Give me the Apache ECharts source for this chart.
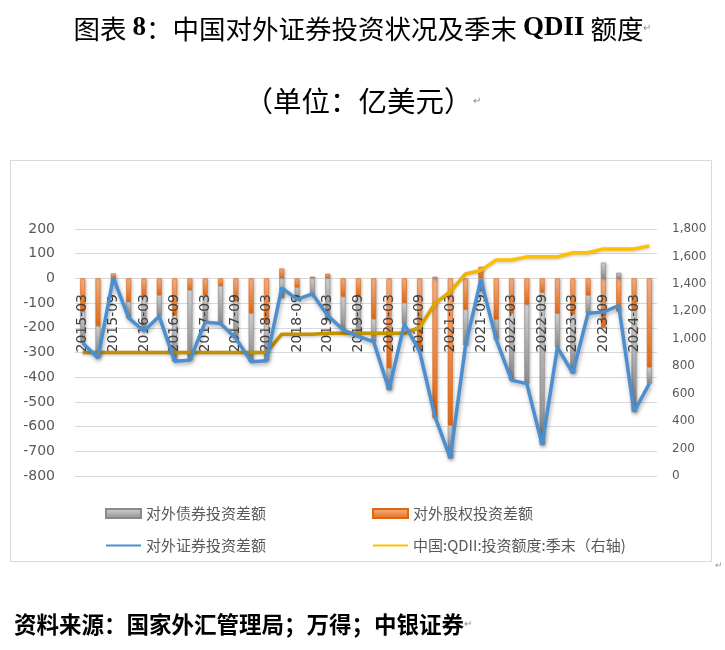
<!DOCTYPE html>
<html>
<head>
<meta charset="utf-8">
<script src="https://cdn.jsdelivr.net/npm/echarts@6/dist/echarts.min.js"></script>
<style>
    html, body { margin: 0; padding: 0; background: #fff; }
    #main { width: 725px; height: 650px; }
</style>
</head>
<body>
<div id="main"></div>
<script>
    // quarter-end labels
    var quarters = [
        '2015-03', '2015-06', '2015-09', '2015-12', '2016-03', '2016-06', '2016-09', '2016-12',
        '2017-03', '2017-06', '2017-09', '2017-12', '2018-03', '2018-06', '2018-09', '2018-12',
        '2019-03', '2019-06', '2019-09', '2019-12', '2020-03', '2020-06', '2020-09', '2020-12',
        '2021-03', '2021-06', '2021-09', '2021-12', '2022-03', '2022-06', '2022-09', '2022-12',
        '2023-03', '2023-06', '2023-09', '2023-12', '2024-03', '2024-06'
    ];
    // 对外债券投资差额 (亿美元)
    var bondNet = [
        -127, -129, -17, -65, -139, -85, -186, -284,
        -107, -152, -149, -196, -155, -80, -48, -70,
        -170, -134, -162, -92, -88, -86, -15, 7,
        -133, -145, -52, -81, -270, -320, -617, -137,
        -237, -73, 64, 23, -410, -66
    ];
    // 对外股权投资差额
    var equityNet = [
        -135, -193, 20, -95, -74, -68, -149, -47,
        -70, -31, -93, -141, -178, 40, -37, 7,
        19, -74, -73, -164, -363, -99, -280, -566,
        -595, -126, 47, -166, -142, -106, -57, -142,
        -146, -68, -200, -133, -130, -360
    ];
    // 对外证券投资差额
    var portfolioNet = [
        -262, -322, 3, -160, -213, -153, -335, -331,
        -177, -183, -242, -337, -333, -38, -85, -63,
        -150, -208, -235, -256, -451, -185, -295, -559,
        -728, -271, -5, -247, -412, -426, -674, -279,
        -383, -141, -136, -110, -540, -426
    ];
    // QDII 投资额度 季末 (右轴)
    var qdiiQuota = [
        900, 900, 900, 900, 900, 900, 900, 900,
        900, 900, 900, 900, 900, 1033, 1033, 1033,
        1040, 1040, 1040, 1040, 1040, 1040, 1081, 1257,
        1343, 1473, 1497, 1575, 1575, 1597, 1597, 1597,
        1627, 1627, 1655, 1655, 1655, 1677
    ];

    var CJK = '"Noto Sans CJK SC", "Noto Sans", sans-serif';
    var NUM = '"DejaVu Sans", "Noto Sans", sans-serif';

    var chartDom = document.getElementById('main');
    var myChart = echarts.init(chartDom);
    var option;

    var grad = function (c0, c1) {
        return new echarts.graphic.LinearGradient(0, 0, 0, 1, [
            { offset: 0, color: c0 },
            { offset: 1, color: c1 }
        ]);
    };

    var legendText = { color: '#595959', fontSize: 15, fontFamily: CJK };

    option = {
        animation: false,
        backgroundColor: '#fff',
        graphic: [
            {
                type: 'rect', z: -10, silent: true,
                shape: { x: 10.5, y: 160.5, width: 701, height: 401 },
                style: { fill: '#fff', stroke: '#D9D9D9', lineWidth: 1 }
            },
            {
                type: 'text', left: 'center', top: 15,
                style: {
                    text: '图表 {b|8}：中国对外证券投资状况及季末 {b|QDII} 额度{m|↵}',
                    fill: '#000', font: '26.5px ' + CJK,
                    rich: {
                        b: { fontFamily: '"Liberation Serif", serif', fontWeight: 'bold', fontSize: 27, fill: '#000' },
                        m: { fontSize: 10, fill: '#888' }
                    }
                }
            },
            {
                type: 'text', left: 'center', top: 87,
                style: {
                    text: '（单位：亿美元）{m|↵}',
                    fill: '#000', font: '28.5px ' + CJK,
                    rich: { m: { fontSize: 10, fill: '#888' } }
                }
            },
            {
                type: 'text', left: 14, top: 613,
                style: {
                    text: '资料来源：国家外汇管理局；万得；中银证券{m|↵}',
                    fill: '#000', font: 'bold 22.5px ' + CJK,
                    rich: { m: { fontSize: 10, fill: '#888', fontWeight: 'normal' } }
                }
            },
            {
                type: 'text', left: 715, top: 560,
                style: { text: '↵', fill: '#999', font: '9px ' + CJK }
            }
        ],
        legend: [
            {
                left: 100, top: 501,
                itemWidth: 35, itemHeight: 9, itemGap: 106,
                textStyle: legendText,
                data: [
                    { name: '对外债券投资差额', icon: 'rect' },
                    { name: '对外股权投资差额', icon: 'rect' }
                ]
            },
            {
                left: 100, top: 533,
                itemWidth: 35, itemHeight: 9, itemGap: 106,
                textStyle: legendText,
                data: [
                    { name: '对外证券投资差额', itemStyle: { opacity: 0 } },
                    {
                        name: '中国:QDII:投资额度:季末（右轴)',
                        itemStyle: { opacity: 0 },
                        lineStyle: { color: '#FFC000' }
                    }
                ]
            }
        ],
        grid: {
            left: 75,
            right: 68,
            top: 229,
            bottom: 174,
            containLabel: false,
            outerBoundsMode: 'none'
        },
        xAxis: {
            type: 'category',
            data: quarters,
            boundaryGap: true,
            position: 'bottom',
            // category labels sit on the zero line (left axis)
            offset: -197,
            z: 3,
            axisLine: { show: false, onZero: false },
            axisTick: { show: false },
            axisLabel: {
                interval: 1,
                rotate: 90,
                margin: 15,
                color: '#404040',
                fontSize: 14,
                fontFamily: NUM
            },
            splitLine: { show: false }
        },
        yAxis: [
            {
                type: 'value',
                min: -800,
                max: 200,
                interval: 100,
                axisLine: { show: false },
                axisTick: { show: false },
                axisLabel: { color: '#595959', fontSize: 14, fontFamily: NUM, margin: 20 },
                splitLine: { show: true, lineStyle: { color: '#D9D9D9', width: 1 } }
            },
            {
                type: 'value',
                position: 'right',
                min: 0,
                max: 1800,
                interval: 200,
                axisLine: { show: false },
                axisTick: { show: false },
                axisLabel: {
                    color: '#595959', fontSize: 12, fontFamily: NUM, margin: 15,
                    formatter: function (v) { return v.toLocaleString('en-US'); }
                },
                splitLine: { show: false }
            }
        ],
        series: [
            {
                name: '对外股权投资差额',
                type: 'bar',
                stack: 'portfolio',
                barWidth: 5,
                z: 2,
                itemStyle: {
                    color: grad('#F8B58A', '#E46C17'),
                    borderColor: '#E06612',
                    borderWidth: 0.6,
                    shadowColor: 'rgba(0,0,0,0.25)',
                    shadowBlur: 3,
                    shadowOffsetX: 1,
                    shadowOffsetY: 1
                },
                data: equityNet
            },
            {
                name: '对外债券投资差额',
                type: 'bar',
                stack: 'portfolio',
                barWidth: 5,
                z: 2,
                itemStyle: {
                    color: grad('#D6D6D6', '#8E8E8E'),
                    borderColor: '#8A8A8A',
                    borderWidth: 0.6,
                    shadowColor: 'rgba(0,0,0,0.25)',
                    shadowBlur: 3,
                    shadowOffsetX: 1,
                    shadowOffsetY: 1
                },
                data: bondNet
            },
            {
                name: '对外证券投资差额',
                type: 'line',
                z: 5,
                symbol: 'none',
                color: '#4B8FD1',
                itemStyle: { opacity: 0 },
                lineStyle: {
                    width: 3.5,
                    color: '#4B8FD1',
                    shadowColor: 'rgba(0,0,0,0.35)',
                    shadowBlur: 4,
                    shadowOffsetX: 1,
                    shadowOffsetY: 2
                },
                data: portfolioNet
            },
            {
                name: '中国:QDII:投资额度:季末（右轴)',
                type: 'line',
                yAxisIndex: 1,
                z: 4,
                symbol: 'none',
                color: '#FFC000',
                itemStyle: { opacity: 0 },
                lineStyle: {
                    width: 3.5,
                    color: new echarts.graphic.LinearGradient(0, 0, 1, 0, [
                        { offset: 0, color: '#BF9000' },
                        { offset: 0.55, color: '#C59500' },
                        { offset: 0.72, color: '#FFC000' },
                        { offset: 1, color: '#FFC000' }
                    ]),
                    shadowColor: 'rgba(0,0,0,0.25)',
                    shadowBlur: 3,
                    shadowOffsetY: 1
                },
                data: qdiiQuota
            }
        ]
    };

    option && myChart.setOption(option);
</script>
</body>
</html>
